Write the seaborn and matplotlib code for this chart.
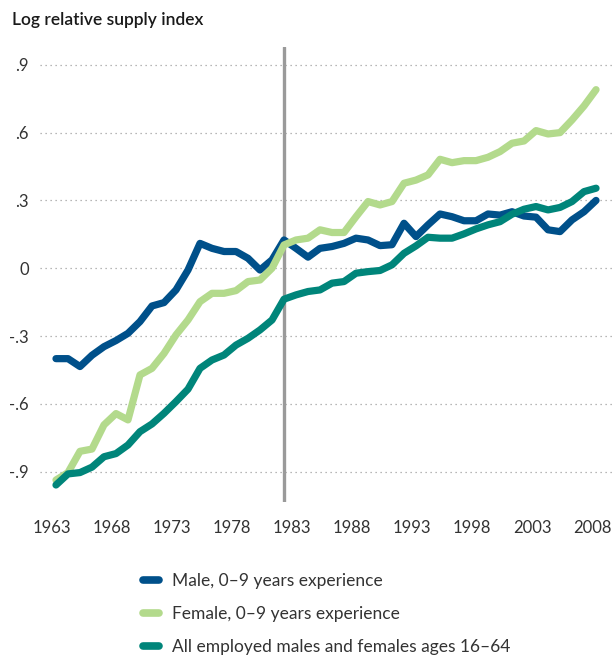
import matplotlib
matplotlib.use("Agg")
import matplotlib.pyplot as plt
import seaborn as sns
import pandas as pd
from matplotlib.lines import Line2D

years = list(range(1963, 2009))

male = [-0.40, -0.40, -0.435, -0.385, -0.347, -0.32, -0.288, -0.236, -0.167, -0.152,
        -0.096, -0.008, 0.11, 0.088, 0.074, 0.074, 0.044, -0.008, 0.037, 0.125,
        0.088, 0.049, 0.088, 0.096, 0.11, 0.133, 0.125, 0.10, 0.104, 0.199,
        0.14, 0.192, 0.24, 0.228, 0.21, 0.21, 0.24, 0.235, 0.25, 0.231,
        0.226, 0.17, 0.162, 0.214, 0.25, 0.30]

female = [-0.937, -0.904, -0.81, -0.80, -0.693, -0.643, -0.671, -0.472, -0.443, -0.377,
          -0.295, -0.229, -0.148, -0.111, -0.111, -0.099, -0.059, -0.052, 0.0, 0.103,
          0.125, 0.133, 0.17, 0.158, 0.158, 0.228, 0.295, 0.28, 0.295, 0.376,
          0.39, 0.413, 0.482, 0.467, 0.476, 0.476, 0.491, 0.516, 0.553, 0.563,
          0.609, 0.594, 0.60, 0.656, 0.718, 0.79]

all_emp = [-0.959, -0.91, -0.904, -0.88, -0.834, -0.82, -0.782, -0.723, -0.689, -0.642,
           -0.59, -0.535, -0.443, -0.406, -0.384, -0.34, -0.31, -0.273, -0.229, -0.137,
           -0.118, -0.103, -0.096, -0.066, -0.059, -0.022, -0.015, -0.01, 0.015, 0.066,
           0.099, 0.137, 0.133, 0.133, 0.152, 0.174, 0.192, 0.206, 0.239, 0.261,
           0.273, 0.258, 0.269, 0.295, 0.339, 0.354]

series_names = ["Male, 0\u20139 years experience",
                "Female, 0\u20139 years experience",
                "All employed males and females ages 16\u201364"]
colors = ["#00508a", "#b3da8c", "#00857a"]

x_tick_years = [1963, 1968, 1973, 1978, 1983, 1988, 1993, 1998, 2003, 2008]
y_ticks = [-0.9, -0.6, -0.3, 0.0, 0.3, 0.6, 0.9]
y_tick_labels = ["-.9", "-.6", "-.3", "0", ".3", ".6", ".9"]
vline_year = 1982

title = "Log relative supply index"

sns.set_theme(style="white")
plt.rcParams["font.family"] = ["Lato", "DejaVu Sans"]

df = pd.DataFrame({
    "year": years * 3,
    "value": male + female + all_emp,
    "series": [series_names[0]] * len(years) + [series_names[1]] * len(years) + [series_names[2]] * len(years),
})

fig = plt.figure(figsize=(6.12, 6.58), dpi=100)
ax = fig.add_axes([0.0654, 0.2375, 0.9346, 0.6915])

for yt in y_ticks:
    ax.axhline(yt, color="#a0a0a0", lw=0.9, ls=(0, (1, 3)), zorder=0)

ax.axvline(vline_year, color="#9a9a9a", lw=2.4, zorder=1)

sns.lineplot(data=df, x="year", y="value", hue="series", hue_order=series_names,
             palette=colors, linewidth=5.2, ax=ax, legend=False, sort=False,
             solid_capstyle="round", solid_joinstyle="round", zorder=3)

ax.set_xlim(1961.67, 2009.33)
ax.set_ylim(-1.033, 0.98)
ax.set_xticks([y - 0.33 for y in x_tick_years])
ax.set_xticklabels([str(y) for y in x_tick_years])
ax.set_yticks(y_ticks)
ax.set_yticklabels(y_tick_labels)
ax.tick_params(axis="both", length=0, labelsize=12, labelcolor="#333333")
ax.tick_params(axis="x", pad=13)
ax.tick_params(axis="y", pad=8)
ax.set_xlabel("")
ax.set_ylabel("")
for s in ax.spines.values():
    s.set_visible(False)

fig.text(12 / 612, 1 - 20 / 658, title, fontsize=12.5, fontweight="semibold",
         color="#1a1a1a", ha="left", va="center")

handles = [Line2D([0], [0], color=c, lw=5.5, solid_capstyle="round") for c in colors]
fig.legend(handles, series_names, loc="upper left", bbox_to_anchor=(136 / 612, 1 - 566 / 658),
           frameon=False, fontsize=12.5, handlelength=0.95, handletextpad=0.7,
           labelspacing=0.98, labelcolor="#333333", borderaxespad=0)

fig.savefig("out.png", dpi=100)
